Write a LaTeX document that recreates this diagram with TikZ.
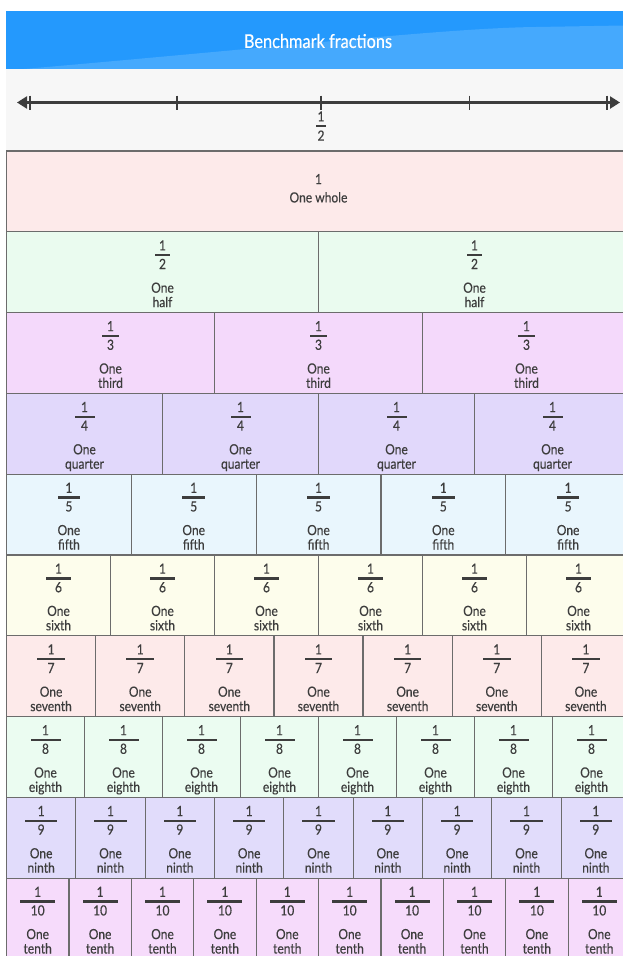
\documentclass[tikz,border=0pt]{standalone}
\usepackage{fontspec}
\setmainfont{Lato}[FakeStretch=0.86, FakeBold=0.35]
\usetikzlibrary{positioning,arrows.meta}

\definecolor{headblue}{HTML}{2499FD}
\definecolor{headlight}{HTML}{45A9FD}
\definecolor{lineband}{HTML}{F7F7F7}
\definecolor{ink}{HTML}{3D3D3D}
\definecolor{rim}{HTML}{6C6C6C}
\definecolor{rowa}{HTML}{FDEAEA}
\definecolor{rowb}{HTML}{EAFBEF}
\definecolor{rowc}{HTML}{F4D9FB}
\definecolor{rowd}{HTML}{E1D8FB}
\definecolor{rowe}{HTML}{E9F6FD}
\definecolor{rowf}{HTML}{FDFDEC}
\definecolor{rowg}{HTML}{FDEAEA}
\definecolor{rowh}{HTML}{EBFCF1}
\definecolor{rowi}{HTML}{E1DCFB}
\definecolor{rowj}{HTML}{F6DBFB}

\begin{document}
\begin{tikzpicture}[x=1pt,y=-1pt,
	cell/.style={draw=rim, line width=1.2pt, anchor=north west, minimum height=80.8pt, inner sep=0pt, outer sep=0pt},
	digit/.style={text=ink, font=\fontsize{14}{15}\selectfont, inner sep=0pt, text height=10.1pt, text depth=0pt},
	word/.style={text=ink, font=\fontsize{14}{15}\selectfont, inner sep=0pt, text height=10.1pt, text depth=2.9pt},
	fracbar/.style={fill=ink},
	axis/.style={draw=ink, line width=2.2pt, {Triangle[length=10pt,width=12pt]}-{Triangle[length=10pt,width=12pt]}},
	tick/.style={draw=ink, line width=1.5pt},
	node distance=4.6pt]
	\useasboundingbox (0,0) rectangle (623,956);
	\clip (0,0) rectangle (623,956);

	% header
	\fill[headblue] (6,11) rectangle (623,69);
	\fill[headlight] (24,69) .. controls (300,45) and (450,28) .. (536,27) -- (623,25.5) -- (623,69) -- cycle;
	\node[text=white, font=\fontsize{19}{22}\selectfont] (title) at (318,41) {Benchmark fractions};

	% number line
	\fill[lineband] (6,69) rectangle (623,151);
	\coordinate (nl-l) at (17,102.5);
	\coordinate (nl-r) at (620,102.5);
	\draw[axis] (nl-l) -- (nl-r);
	\foreach \x [count=\i] in {30,177,321,469.5,607} {
		\coordinate (t\i) at (\x,102.5);
		\draw[tick] ([yshift=7pt]t\i) -- ([yshift=-7pt]t\i);
	}
	\coordinate (half-bar) at (321,126.2);
	\fill[fracbar] ([xshift=-5pt,yshift=1.15pt]half-bar) rectangle ([xshift=5pt,yshift=-1.15pt]half-bar);
	\node[digit] (half-num) [above=of half-bar] {1};
	\node[digit] (half-den) [below=4.2pt of half-bar] {2};

	% one whole
	\node[cell, fill=rowa, minimum width=624pt] (c-1-1) at (6.5,151) {};
	\node[digit] (num-1-1) at ([yshift=-28pt]c-1-1.north) {1};
	\node[word] (one-1-1) [below=7.9pt of num-1-1] {One whole};

	% the other rows
	\foreach \n/\col/\word [evaluate=\n as \w using 624/\n,
			evaluate=\n as \top using 151+(\n-1)*80.8,
			evaluate=\n as \hb using 5+1.25*(\n==10)] in
			{2/rowb/half, 3/rowc/third, 4/rowd/quarter, 5/rowe/fifth, 6/rowf/sixth,
			 7/rowg/seventh, 8/rowh/eighth, 9/rowi/ninth, 10/rowj/tenth} {
		\foreach \k in {1,...,\n} {
			\node[cell, fill=\col, minimum width=\w pt] (c-\n-\k) at ({6.5+(\k-1)*\w}, \top) {};
			\coordinate (bar-\n-\k) at ([yshift=-23.4pt]c-\n-\k.north);
			\fill[fracbar] ([xshift=-\hb pt,yshift=1.15pt]bar-\n-\k) rectangle ([xshift=\hb pt,yshift=-1.15pt]bar-\n-\k);
			\node[digit] (num-\n-\k) [above=of bar-\n-\k] {1};
			\node[digit] (den-\n-\k) [below=3.5pt of bar-\n-\k] {\n};
			\node[word] (one-\n-\k) [below=13.2pt of den-\n-\k] {One};
			\node[word] (name-\n-\k) [below=1pt of one-\n-\k] {\word};
		}
	}
\end{tikzpicture}
\end{document}
